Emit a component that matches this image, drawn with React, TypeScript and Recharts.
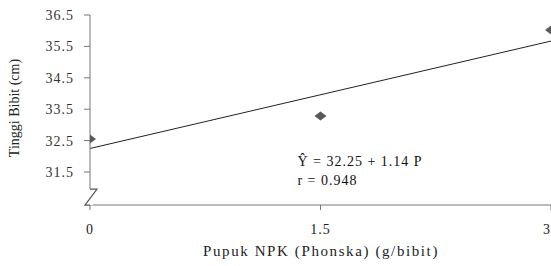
import React from 'react';
import { ComposedChart, Scatter, XAxis, YAxis, ReferenceLine, ReferenceDot } from 'recharts';

const doses = [0, 1.5, 3];
const heights = [32.55, 33.28, 36.02];
const fitX = [0, 3];
const fitY = [32.25, 35.67];
const xTicks = [0, 1.5, 3];
const yTicks = [31.5, 32.5, 33.5, 34.5, 35.5, 36.5];
const eqLines = ['Ŷ = 32.25 + 1.14 P', 'r = 0.948'];

const points = doses.map((d, i) => ({ x: d, y: heights[i] }));
const FONT = '"Liberation Serif", "Times New Roman", serif';

const BreakMark = (props: any) => {
  const { cx, cy } = props;
  return (
    <g>
      <rect x={cx - 3} y={cy - 8} width={6} height={16} fill="#fff" />
      <path d={`M ${cx} ${cy - 8} L ${cx + 7} ${cy - 8} L ${cx - 5} ${cy + 8} L ${cx} ${cy + 8}`} fill="none" stroke="#555" strokeWidth={1.2} />
    </g>
  );
};

const Diamond = (props: any) => {
  const { cx, cy } = props;
  return (
    <polygon
      points={`${cx - 6},${cy} ${cx},${cy - 4.5} ${cx + 6},${cy} ${cx},${cy + 4.5}`}
      fill="#5a5a5a"
    />
  );
};

const EqText = (props: any) => {
  const { cx, cy } = props;
  return (
    <g fontFamily={FONT} fontSize={14} fill="#111">
      {eqLines.map((t, i) => (
        <text key={i} x={cx} y={cy + i * 19} dominantBaseline="middle" letterSpacing={1}>{t}</text>
      ))}
    </g>
  );
};

export default function App() {
  return (
    <div style={{ position: 'absolute', left: 0, top: 0, background: '#fff' }}>
      <ComposedChart width={551} height={266} data={points} margin={{ top: 15, right: 0, left: 0, bottom: 31 }}>
        <XAxis
          type="number"
          dataKey="x"
          domain={[0, 3]}
          ticks={xTicks}
          tickSize={5}
          tickMargin={14}
          height={30}
          stroke="#777"
          tick={{ fill: '#222', fontFamily: FONT, fontSize: 14, letterSpacing: 1 }}
          allowDataOverflow
        />
        <YAxis
          type="number"
          dataKey="y"
          domain={[30.45, 36.5]}
          ticks={yTicks}
          width={90}
          tickSize={6}
          tickMargin={10}
          stroke="#777"
          tick={{ fill: '#3a3030', fontFamily: FONT, fontSize: 14, letterSpacing: 1 }}
          allowDataOverflow
        />
        <ReferenceLine
          segment={[{ x: fitX[0], y: fitY[0] }, { x: fitX[1], y: fitY[1] }]}
          stroke="#222"
          strokeWidth={1}
          ifOverflow="visible"
        />
        <Scatter data={points} dataKey="y" fill="#5a5a5a" shape={Diamond} legendType="diamond" isAnimationActive={false} />
        <ReferenceDot x={0} y={30.7} r={0} shape={BreakMark} ifOverflow="visible" />
        <ReferenceDot x={1.35} y={31.8} r={0} shape={EqText} ifOverflow="visible" />
      </ComposedChart>
      <svg width={551} height={266} style={{ position: 'absolute', left: 0, top: 0, pointerEvents: 'none' }}>
        <text x={16} y={108} transform="rotate(-90,16,108)" textAnchor="middle" dominantBaseline="middle" fontFamily={FONT} fontSize={14} fill="#222">Tinggi Bibit (cm)</text>
        <text x={321} y={253} textAnchor="middle" dominantBaseline="middle" fontFamily={FONT} fontSize={15} fill="#222" letterSpacing={1.6}>Pupuk NPK (Phonska) (g/bibit)</text>
      </svg>
    </div>
  );
}
